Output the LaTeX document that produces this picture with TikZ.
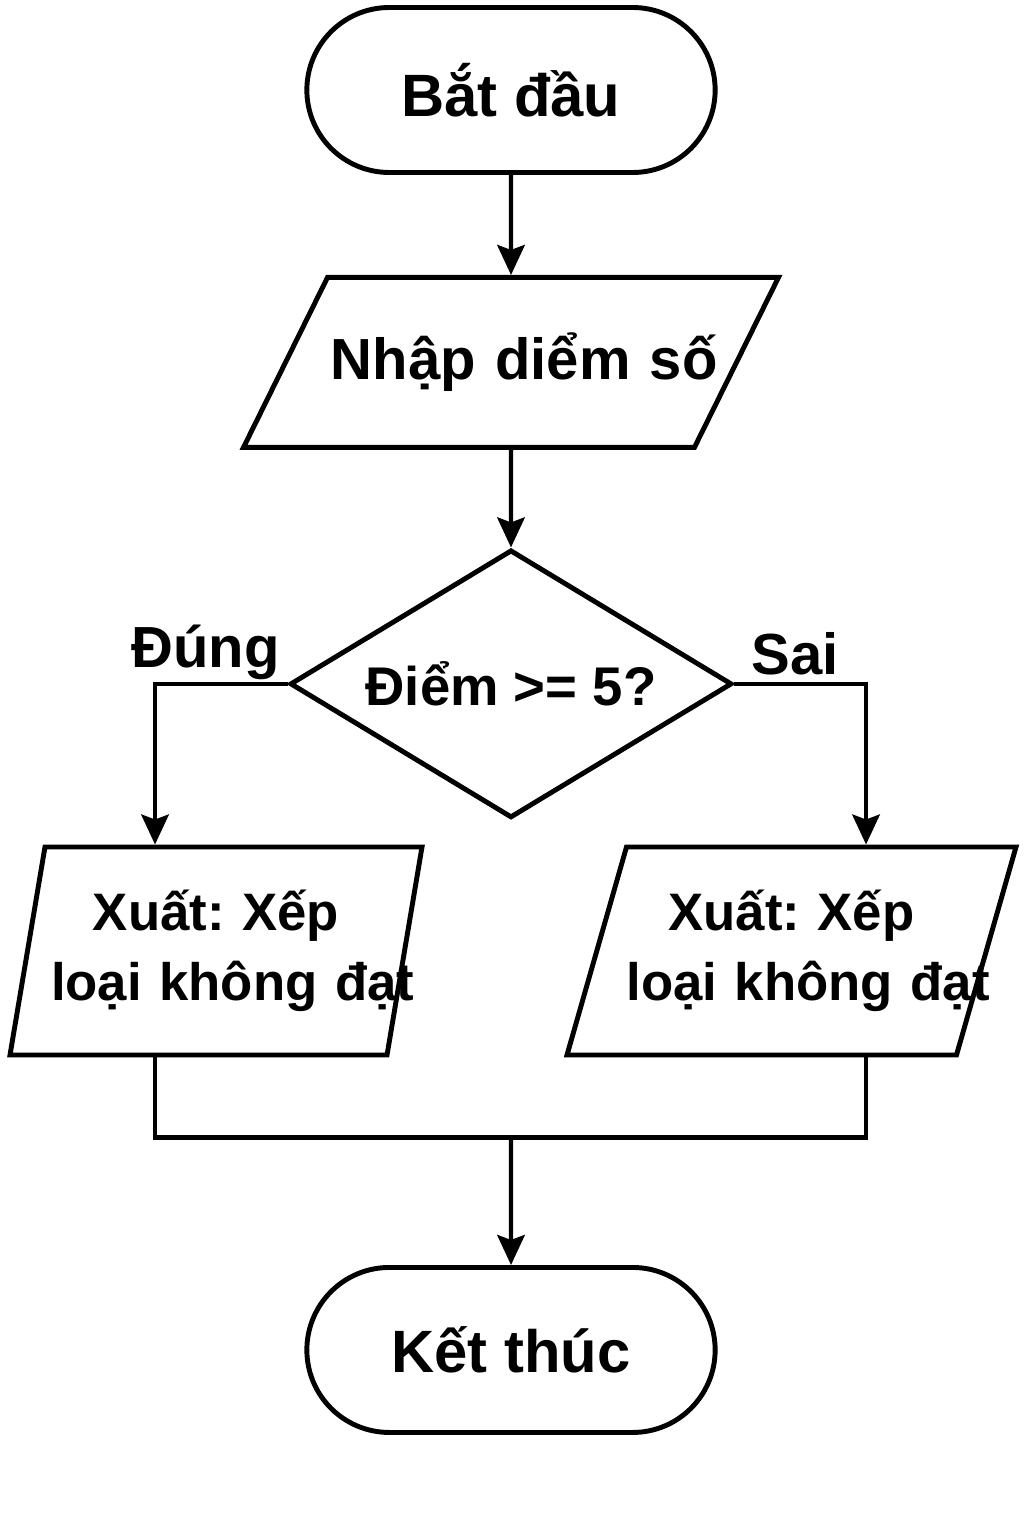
\documentclass[tikz,border=0pt]{standalone}
\usepackage{fontspec}
\setmainfont{Liberation Sans}
\frenchspacing
\usetikzlibrary{positioning,shapes.geometric,shapes.misc,arrows.meta}

\begin{document}
\begin{tikzpicture}[
	terminal/.style={draw, rounded rectangle, line width=2.8pt,
		minimum width=8.4cm, minimum height=3.3cm},
	io/.style={draw, trapezium, trapezium stretches body, line width=2.8pt,
		inner sep=0pt, align=center},
	decision/.style={draw, diamond, aspect=1.65, line width=2.8pt, inner sep=0pt,
		minimum width=8.84cm, minimum height=5.36cm},
	arr/.style={-{Stealth[length=6mm,width=5.5mm,inset=1mm]}, line width=2.4pt},
	link/.style={line width=2.4pt},
	font=\fontsize{33}{40}\selectfont\bfseries
]
\useasboundingbox (0,0) rectangle (20.48,-30.72);

% Start
\node [terminal, font=\fontsize{34}{40}\selectfont\bfseries] (start) at (10.22,-1.80) {Bắt đầu};

% Input
\node [io,
	trapezium left angle=35,
	trapezium right angle=145,
	text width=7.2cm,
	minimum width=10.7cm,
	minimum height=3.4cm,
	below = 2.0cm of start
] (input) {\mbox{Nhập diểm số}};

% Decision
\node [decision,
	font=\fontsize{31}{40}\selectfont\bfseries,
	below = 1.95cm of input
] (check) {Điểm >= 5?};

% Outputs
\node [io,
	font=\fontsize{30}{40}\selectfont\bfseries,
	trapezium left angle=74,
	trapezium right angle=106,
	text width=6.6cm,
	minimum width=8.24cm,
	minimum height=4.16cm
] (pass) at (4.32,-19.02) {\mbox{Xuất: Xếp}\\\mbox{loại không đạt}};

\node [io,
	font=\fontsize{30}{40}\selectfont\bfseries,
	trapezium left angle=64,
	trapezium right angle=116,
	text width=6.6cm,
	minimum width=8.86cm,
	minimum height=4.16cm
] (fail) at (15.83,-19.02) {\mbox{Xuất: Xếp}\\\mbox{loại không đạt}};

% Join point and end
\coordinate (merge) at ([yshift=-1.6cm] pass.south -| check.south);
\node [terminal, font=\fontsize{34}{40}\selectfont\bfseries, below = 2.55cm of merge] (stop) {Kết thúc};

% Arrows
\draw[arr] (start) -- (input);
\draw[arr] (input) -- (check);
\draw[arr] (check.west) -| node[pos=0.31, above, inner sep=1pt] {Đúng} ([xshift=-1.22cm] pass.north);
\draw[arr] (check.east) -| node[pos=0.23, above, inner sep=4pt] {Sai} ([xshift=1.49cm] fail.north);
\draw[link] ([xshift=-1.22cm] pass.south) |- (merge) -| ([xshift=1.49cm] fail.south);
\draw[arr] (merge) -- (stop);

\end{tikzpicture}
\end{document}
